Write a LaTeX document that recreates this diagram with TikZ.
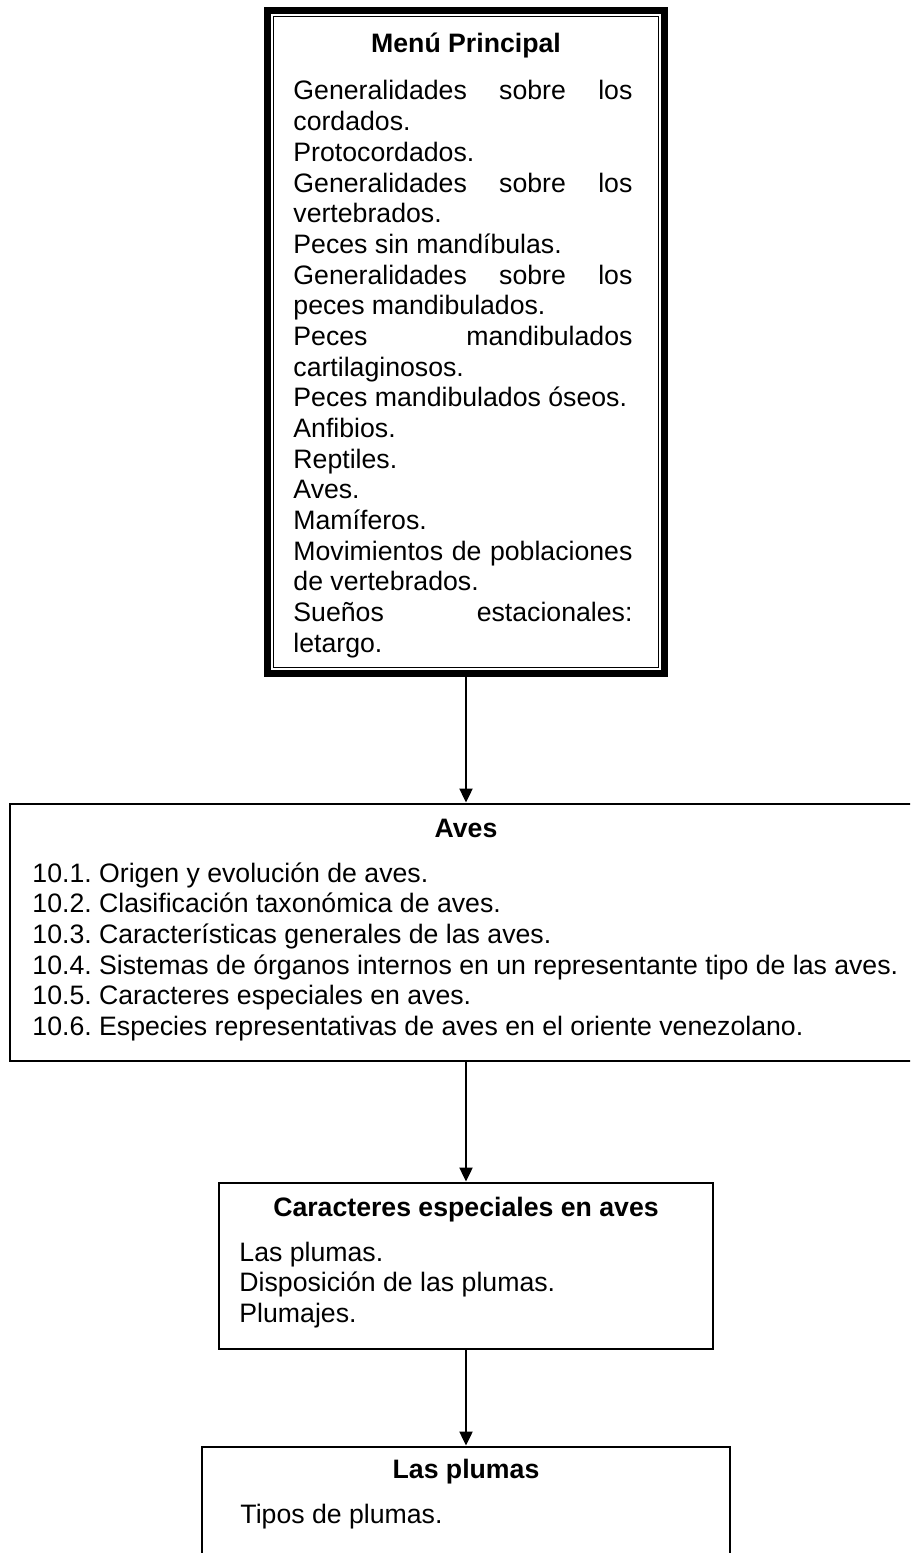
\documentclass[tikz,border=0pt]{standalone}
\usepackage{fontspec}
\setmainfont{Liberation Sans}
\usetikzlibrary{arrows.meta, positioning, calc}
\frenchspacing
\newlength\menuw
\setlength\menuw{152.55pt}
\newcommand\jline[1]{\makebox[\menuw][s]{#1}}

\begin{document}
\begin{tikzpicture}[x=0.45pt, y=-0.45pt,
  box/.style={draw, line width=0.9pt, inner sep=0pt, anchor=center},
  txt/.style={font=\fontsize{12}{13.8}\selectfont, inner sep=0pt, anchor=base west},
  ttl/.style={font=\fontsize{12}{13.8}\selectfont\bfseries, inner sep=0pt, anchor=base},
  arr/.style={line width=0.9pt, -{Triangle[length=6.3pt, width=5.9pt]}}]
\useasboundingbox (0,0) rectangle (910,1553);
\clip (0,0) rectangle (910,1553);

% ---- menu box ----
\node[box, line width=3.15pt, outer sep=0pt, minimum width=178.65pt,
  minimum height=298.35pt] (menu) at (466,342) {};
\draw[line width=0.7pt] ([shift={(6,6)}]menu.north west)
  rectangle ([shift={(-6,-6)}]menu.south east);
\node[ttl] (menu-t) at (466,53) {Menú Principal};
\foreach \txt [count=\i from 0] in {
    {\jline{Generalidades sobre los}}, cordados., Protocordados.,
    {\jline{Generalidades sobre los}}, vertebrados., Peces sin mandíbulas.,
    {\jline{Generalidades sobre los}}, peces mandibulados.,
    {\jline{Peces mandibulados}}, cartilaginosos., Peces mandibulados óseos.,
    Anfibios., Reptiles., Aves., Mamíferos.,
    {\jline{Movimientos de poblaciones}}, de vertebrados.,
    {\jline{Sueños estacionales:}}, letargo.}{
  \node[txt] (menu-\i) at (293,{100+30.67*\i}) {\txt};
}

% ---- aves box ----
\node[box, minimum width=410.4pt, minimum height=115.65pt] (aves) at (466,932) {};
\node[ttl] (aves-t) at (466,837) {Aves};
\foreach \txt [count=\i from 0] in {
    10.1. Origen y evolución de aves.,
    10.2. Clasificación taxonómica de aves.,
    10.3. Características generales de las aves.,
    10.4. Sistemas de órganos internos en un representante tipo de las aves.,
    10.5. Caracteres especiales en aves.,
    10.6. Especies representativas de aves en el oriente venezolano.}{
  \node[txt] (aves-\i) at (32,{882+30.67*\i}) {\txt};
}

% ---- caracteres box ----
\node[box, minimum width=222.3pt, minimum height=74.7pt] (carac) at (466,1265.5) {};
\node[ttl] (carac-t) at (466,1216) {Caracteres especiales en aves};
\foreach \txt [count=\i from 0] in {
    Las plumas., Disposición de las plumas., Plumajes.}{
  \node[txt] (carac-\i) at (239,{1261+30.67*\i}) {\txt};
}

% ---- plumas box ----
\node[box, minimum width=237.6pt, minimum height=114.3pt] (plumas) at (466,1573.5) {};
\node[ttl] (plumas-t) at (466,1478) {Las plumas};
\node[txt] (plumas-0) at (240,1523) {Tipos de plumas.};

% connectors
\draw[arr] (menu.south) -- (aves.north);
\draw[arr] (aves.south) -- (carac.north);
\draw[arr] (carac.south) -- (plumas.north);
\end{tikzpicture}
\end{document}
